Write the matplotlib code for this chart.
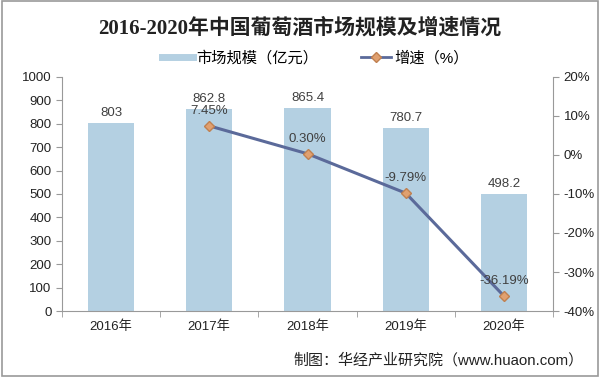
import matplotlib
matplotlib.use("Agg")
import matplotlib.pyplot as plt
from matplotlib.patches import Rectangle
from matplotlib.ticker import FuncFormatter
from matplotlib.lines import Line2D
import numpy as np

SANS = ['Liberation Sans', 'Noto Sans CJK SC', 'DejaVu Sans']
plt.rcParams['font.family'] = SANS

years = ["2016年", "2017年", "2018年", "2019年", "2020年"]
market = [803, 862.8, 865.4, 780.7, 498.2]
market_labels = ["803", "862.8", "865.4", "780.7", "498.2"]
growth_years_idx = [1, 2, 3, 4]
growth = [7.45, 0.30, -9.79, -36.19]
growth_labels = ["7.45%", "0.30%", "-9.79%", "-36.19%"]

fig = plt.figure(figsize=(6, 3.77), dpi=100)
fig.patches.append(Rectangle((0.003, 0.003), 0.994, 0.994, transform=fig.transFigure,
                             fill=False, edgecolor='#9a9a9a', linewidth=1.2))

ax = fig.add_axes([0.103, 0.175, 0.819, 0.621])
x = np.arange(len(years))
bar_color = '#B4D0E2'
ax.bar(x, market, width=0.47, color=bar_color, zorder=2)
ax.set_ylim(0, 1000)
ax.set_xlim(-0.5, 4.5)
ax.set_yticks(np.arange(0, 1001, 100))
for xi, v, lab in zip(x, market, market_labels):
    ax.text(xi, v + 18, lab, ha='center', va='bottom', fontsize=9.5, color='#404040')

ax.set_xticks(x)
ax.set_xticklabels(years, fontsize=9.5, color='#222222')
ax.set_xticks(np.arange(-0.5, 5, 1), minor=True)
ax.tick_params(axis='x', which='major', length=0, pad=7)
ax.tick_params(axis='x', which='minor', length=4, color='#999999')
ax.tick_params(axis='y', labelsize=9.5, colors='#222222', length=4, color='#999999')
for s in ['top', 'right']:
    ax.spines[s].set_visible(False)
ax.spines['left'].set_color('#999999')
ax.spines['bottom'].set_color('#999999')

ax2 = ax.twinx()
ax2.set_ylim(-40, 20)
ax2.set_yticks(np.arange(-40, 21, 10))
ax2.yaxis.set_major_formatter(FuncFormatter(lambda v, p: f"{int(v)}%"))
ax2.tick_params(axis='y', labelsize=9.5, colors='#222222', length=4, color='#999999')
for s in ['top', 'left', 'bottom']:
    ax2.spines[s].set_visible(False)
ax2.spines['right'].set_color('#999999')
line_color = '#5B6A9A'
ax2.plot(growth_years_idx, growth, color=line_color, linewidth=2.2, marker='D',
         markersize=5.5, markerfacecolor='#E0A070', markeredgecolor='#C08050', zorder=3)
for xi, v, lab in zip(growth_years_idx, growth, growth_labels):
    ax2.text(xi, v + 2.3, lab, ha='center', va='bottom', fontsize=9.5, color='#404040')

fig.text(0.5, 0.926, "2016-2020年中国葡萄酒市场规模及增速情况", ha='center', va='center',
         fontsize=15, fontweight='bold', color='#222222',
         family=['Liberation Serif', 'Noto Sans CJK SC', 'DejaVu Sans'])

handles = [Line2D([0], [0], color=bar_color, linewidth=5),
           Line2D([0], [0], color=line_color, linewidth=2, marker='D', markersize=5,
                  markerfacecolor='#E0A070', markeredgecolor='#C08050')]
fig.legend(handles, ["市场规模（亿元）", "增速（%）"], loc='center', bbox_to_anchor=(0.526, 0.846),
           ncol=2, frameon=False, fontsize=11, handlelength=2.0, columnspacing=2.8, handletextpad=0.2)

fig.text(0.972, 0.045, "制图：华经产业研究院（www.huaon.com）", ha='right', va='center',
         fontsize=10.8, color='#222222')

fig.savefig("out.png", dpi=100)
